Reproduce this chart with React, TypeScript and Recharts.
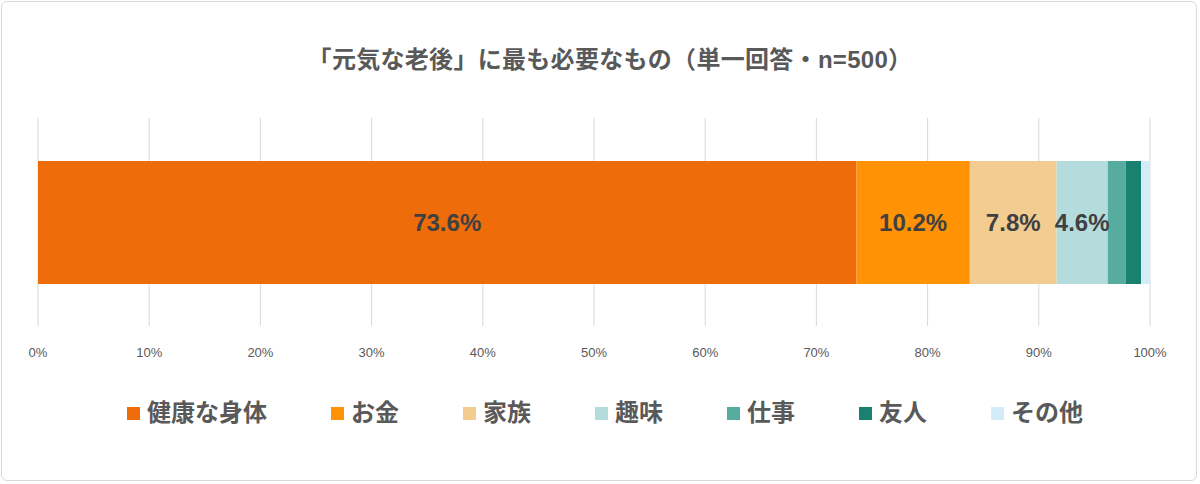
import React from 'react';
import {
  BarChart,
  Bar,
  XAxis,
  YAxis,
  CartesianGrid,
  LabelList,
} from 'recharts';

const categories = ['健康な身体', 'お金', '家族', '趣味', '仕事', '友人', 'その他'];
const values = [73.6, 10.2, 7.8, 4.6, 1.6, 1.4, 0.8];
const colors = ['#EE6C0A', '#FF9305', '#F2CC90', '#B5DCDC', '#56AC9E', '#1A8170', '#D4ECF8'];
const showLabel = [true, true, true, true, false, false, false];
const xTicks = [0, 10, 20, 30, 40, 50, 60, 70, 80, 90, 100];
const title = '「元気な老後」に最も必要なもの（単一回答・n=500）';

const row: Record<string, string | number> = { name: 'all' };
categories.forEach((c, i) => {
  row[c] = values[i];
});
const data = [row];

const FONT = "'Liberation Sans', 'Noto Sans CJK JP', sans-serif";

// value label drawn at the centre of the segment recharts gives us
const renderValue = (props: any) => {
  const { x, y, width, height, value } = props;
  return (
    <text
      x={Number(x) + Number(width) / 2}
      y={Number(y) + Number(height) / 2}
      textAnchor="middle"
      dominantBaseline="central"
      fill="#404040"
      fontSize={24}
      fontWeight="bold"
      fontFamily={FONT}
    >
      {`${value}%`}
    </text>
  );
};

export default function App() {
  return (
    <div style={{ position: 'absolute', left: 0, top: 0, width: 1200, height: 484, background: '#fff', fontFamily: FONT }}>
      <div
        style={{
          position: 'absolute',
          left: 1,
          top: 1,
          width: 1196,
          height: 480,
          boxSizing: 'border-box',
          border: '1px solid #d9d9d9',
          borderRadius: 6,
        }}
      />
      <div
        style={{
          position: 'absolute',
          left: 260,
          width: 700,
          top: 45,
          textAlign: 'center',
          fontSize: 24,
          fontWeight: 'bold',
          color: '#595959',
          lineHeight: '30px',
          letterSpacing: 0.3,
          whiteSpace: 'nowrap',
        }}
      >
        {title}
      </div>
      <div style={{ position: 'absolute', left: 0, top: 0 }}>
        <BarChart
          width={1200}
          height={484}
          data={data}
          layout="vertical"
          margin={{ top: 118, right: 50, left: 38, bottom: 128 }}
        >
          <CartesianGrid horizontal={false} stroke="#d9d9d9" />
          <XAxis
            type="number"
            domain={[0, 100]}
            ticks={xTicks}
            tickFormatter={(v: number) => `${v}%`}
            axisLine={false}
            tickLine={false}
            tickMargin={16}
            height={30}
            tick={{ fill: '#595959', fontSize: 13, fontFamily: FONT }}
            interval={0}
          />
          <YAxis type="category" dataKey="name" hide />
          {categories.map((c, i) => (
            <Bar
              key={c}
              dataKey={c}
              stackId="a"
              fill={colors[i]}
              barSize={123}
              isAnimationActive={false}
            >
              {showLabel[i] && <LabelList dataKey={c} content={renderValue} />}
            </Bar>
          ))}
        </BarChart>
      </div>
      <div
        style={{
          position: 'absolute',
          left: 127,
          top: 398,
          display: 'flex',
          alignItems: 'center',
          gap: 64,
          fontSize: 24,
          fontWeight: 'bold',
          color: '#595959',
          lineHeight: '30px',
        }}
      >
        {categories.map((c, i) => (
          <div key={c} style={{ display: 'flex', alignItems: 'center' }}>
            <span style={{ display: 'inline-block', width: 13, height: 13, background: colors[i], marginRight: 7 }} />
            <span>{c}</span>
          </div>
        ))}
      </div>
    </div>
  );
}
